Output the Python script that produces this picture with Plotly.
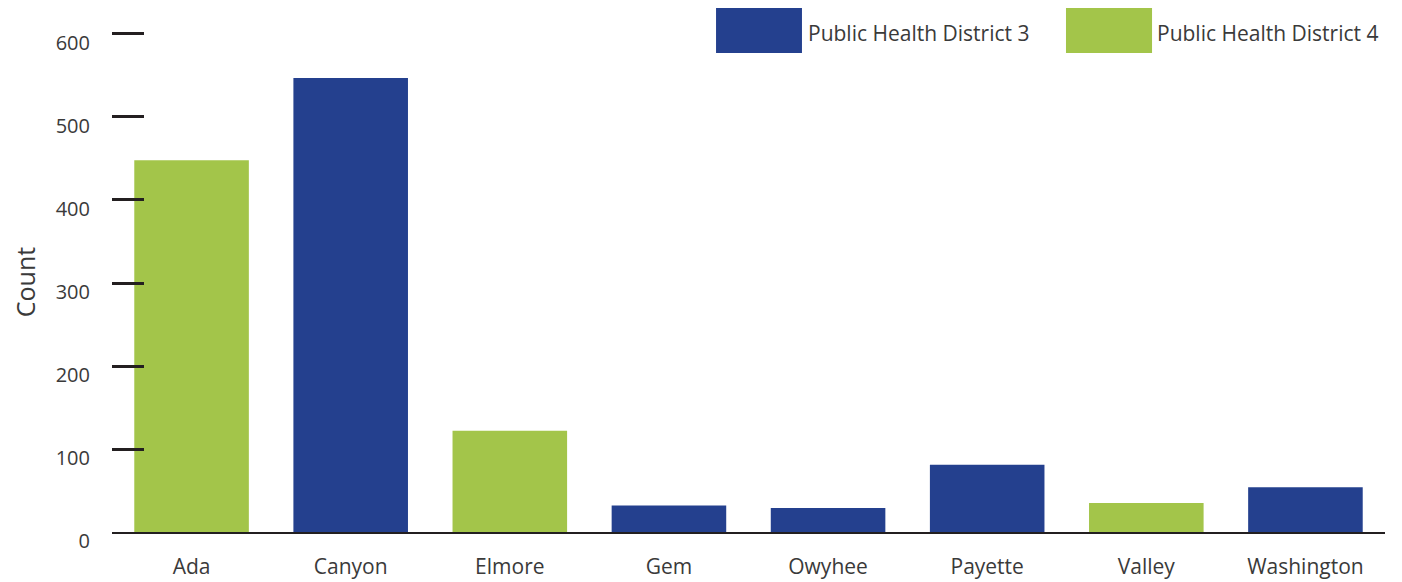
import plotly.graph_objs as go

# Data
counties = ['Ada', 'Canyon', 'Elmore', 'Gem', 'Owyhee', 'Payette', 'Valley', 'Washington']
district = [4, 3, 4, 3, 3, 3, 4, 3]
counts = [448, 547, 122, 32, 29, 81, 35, 54]

y_ticks = [0, 100, 200, 300, 400, 500, 600]

colors = {3: '#24408E', 4: '#A3C54A'}
names = {3: 'Public Health District 3', 4: 'Public Health District 4'}
font = 'Open Sans, Noto Sans, sans-serif'
text_color = '#3a3a3a'

fig = go.Figure()

for d in [3, 4]:
    fig.add_trace(go.Bar(
        x=counties,
        y=[c if dd == d else None for c, dd in zip(counts, district)],
        name=names[d],
        marker=dict(color=colors[d], line=dict(width=0)),
        showlegend=False,
    ))

# big legend swatches drawn as shapes (plotly legend icons are too small)
# paper coords: plot area is 1273 x 500 px
legend_items = [(3, 0.4745, 0.542, 0.545), (4, 0.7494, 0.817, 0.8194)]
for d, x0, x1, xt in legend_items:
    fig.add_shape(type='rect', xref='paper', yref='paper',
                  x0=x0, x1=x1, y0=0.958, y1=1.048,
                  fillcolor=colors[d], line=dict(width=0), layer='above')
    fig.add_annotation(xref='paper', yref='paper', x=xt, y=0.999,
                       xanchor='left', yanchor='middle', showarrow=False,
                       text=names[d], font=dict(family=font, size=21, color=text_color))

# page body has an 8px margin, so the figure is 8px smaller each way
fig.update_layout(
    width=1394, height=574,
    margin=dict(l=104, r=17, t=24, b=50),
    plot_bgcolor='white', paper_bgcolor='white',
    barmode='relative',
    bargap=0.28,
    font=dict(family=font, size=20, color=text_color),
    xaxis=dict(showline=True, linecolor='#231f20', linewidth=2,
               ticks='', showgrid=False, ticklabelstandoff=15, automargin=False,
               tickfont=dict(size=21, color=text_color)),
    yaxis=dict(range=[0, 602.4], tickvals=y_ticks, showgrid=False,
               zeroline=False, showline=False, automargin=False,
               ticks='inside', ticklen=32, tickwidth=3, tickcolor='#231f20',
               ticklabelstandoff=21, ticklabelshift=9,
               tickfont=dict(size=20, color=text_color),
               title=dict(text='Count', standoff=29,
                          font=dict(size=25, color=text_color))),
)

fig.write_html("out.html")
